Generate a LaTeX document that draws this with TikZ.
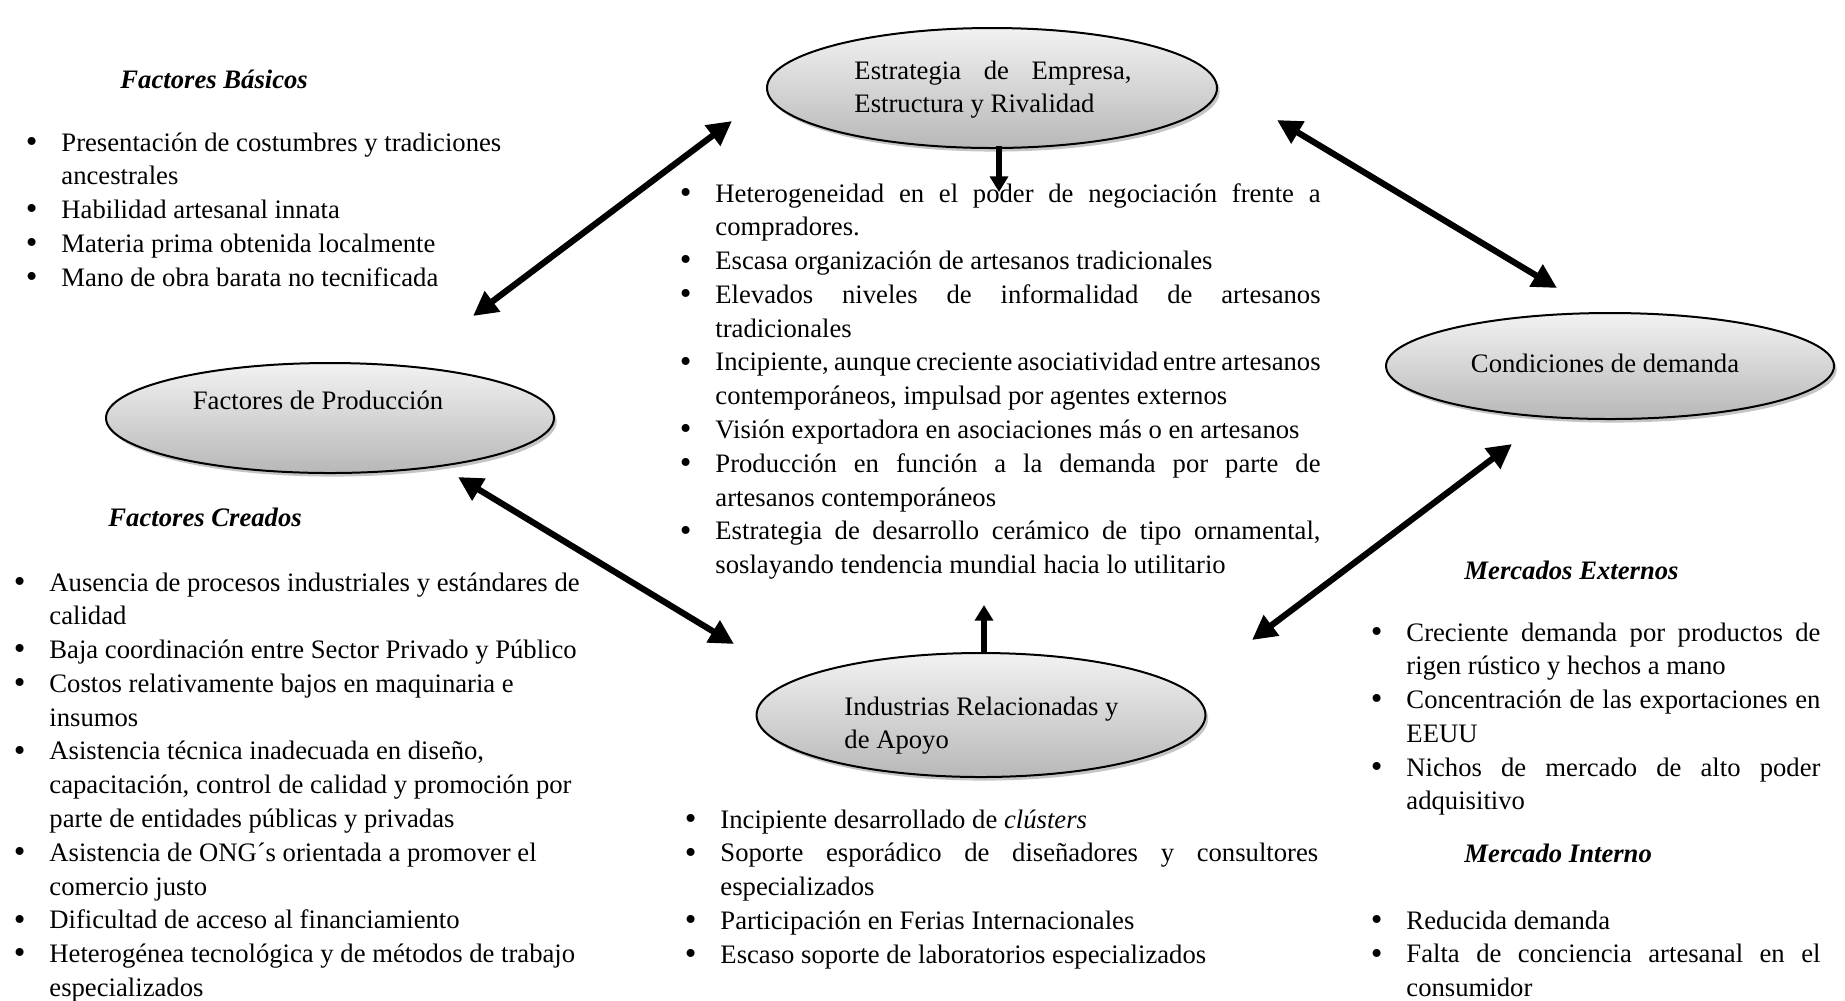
\documentclass[tikz,border=0pt]{standalone}
\usepackage{fontspec}
\setmainfont{Liberation Serif}
\usetikzlibrary{arrows.meta,shapes.geometric,shadows}
\newcommand\bulmark{\llap{\raisebox{-0.6pt}{\fontsize{15}{15}\selectfont\textbullet}\hspace{10.8pt}}}
\newcommand\rr{\raggedright\spaceskip=0pt\xspaceskip=0pt\relax}
\newcommand\fbi{\rr\bulmark\ignorespaces}
\newcommand\bi{\par\noindent\bulmark\ignorespaces}
\newcommand\jl[1]{\makebox[\hsize][s]{\spaceskip=0pt\xspaceskip=0pt #1}\\}
\begin{document}
\begin{tikzpicture}[x=0.45pt,y=-0.45pt,
  ell/.style={ellipse, draw=black, line width=0.9pt, top color=black!5, bottom color=black!28, inner sep=0pt,
    drop shadow={shadow xshift=1.2pt, shadow yshift=-1.6pt, fill=black!45}},
  txt/.style={inner sep=0pt, font=\fontsize{12}{15.2}\selectfont},
  hdr/.style={inner sep=0pt, font=\fontsize{12}{15.2}\selectfont\bfseries\itshape},
  dbl/.style={line width=2.8pt, {Triangle[length=11pt,width=11pt]}-{Triangle[length=11pt,width=11pt]}},
  sgl/.style={line width=2.3pt, -{Triangle[length=7pt,width=8pt]}},
]
\path[fill=white] (0,0) rectangle (1845,1000);
\useasboundingbox (0,0) rectangle (1845,1000);

% ellipses
\node[ell, minimum width=202.5pt, minimum height=54pt] (est) at (992,88) {};
\node[ell, minimum width=201.6pt, minimum height=49.5pt] (fp) at (330,418) {};
\node[ell, minimum width=201.6pt, minimum height=47.7pt] (cd) at (1610,366) {};
\node[ell, minimum width=202pt, minimum height=55.8pt] (ind) at (981,715) {};

% ellipse labels
\node[txt, text width=124.7pt, anchor=base west] (estT) at (854,79) {\rr\jl{Estrategia de Empresa,}Estructura y Rivalidad};
\node[txt, text width=130pt, anchor=base west] (indT) at (844,715) {\rr Industrias Relacionadas y\\de Apoyo};
\node[txt, anchor=base] (fpT) at (318,409) {Factores de Producción};
\node[txt, anchor=base] (cdT) at (1605,372) {Condiciones de demanda};

% headers
\node[hdr, anchor=base west] (fbH) at (120,88) {Factores Básicos};
\node[hdr, anchor=base west] (fcH) at (108,526) {Factores Creados};
\node[hdr, anchor=base west] (meH) at (1464,579) {Mercados Externos};
\node[hdr, anchor=base west] (miH) at (1464,862) {Mercado Interno};

% lists
\node[txt, text width=205pt, anchor=base west] (fbL) at (61,151) {%
\fbi Presentación de costumbres y tradiciones\\ancestrales
\bi Habilidad artesanal innata
\bi Materia prima obtenida localmente
\bi Mano de obra barata no tecnificada};

\node[txt, text width=272.3pt, anchor=base west] (estL) at (715,202) {%
\fbi \jl{Heterogeneidad en el poder de negociación frente a}compradores.
\bi Escasa organización de artesanos tradicionales
\bi \jl{Elevados niveles de informalidad de artesanos}tradicionales
\bi \jl{Incipiente, aunque creciente asociatividad entre artesanos}contemporáneos, impulsad por agentes externos
\bi Visión exportadora en asociaciones más o en artesanos
\bi \jl{Producción en función a la demanda por parte de}artesanos contemporáneos
\bi \jl{Estrategia de desarrollo cerámico de tipo ornamental,}soslayando tendencia mundial hacia lo utilitario};

\node[txt, text width=245pt, anchor=base west] (fcL) at (49,591) {%
\fbi Ausencia de procesos industriales y estándares de\\calidad
\bi Baja coordinación entre Sector Privado y Público
\bi Costos relativamente bajos en maquinaria e\\insumos
\bi Asistencia técnica inadecuada en diseño,\\capacitación, control de calidad y promoción por\\parte de entidades públicas y privadas
\bi Asistencia de ONG´s orientada a promover el\\comercio justo
\bi Dificultad de acceso al financiamiento
\bi Heterogénea tecnológica y de métodos de trabajo\\especializados};

\node[txt, text width=269pt, anchor=base west] (indL) at (720,828) {%
\fbi Incipiente desarrollado de \textit{clústers}
\bi \jl{Soporte esporádico de diseñadores y consultores}especializados
\bi Participación en Ferias Internacionales
\bi Escaso soporte de laboratorios especializados};

\node[txt, text width=186.3pt, anchor=base west] (meL) at (1406,641) {%
\fbi \jl{Creciente demanda por productos de}rigen rústico y hechos a mano
\bi \jl{Concentración de las exportaciones en}EEUU
\bi \jl{Nichos de mercado de alto poder}adquisitivo};

\node[txt, text width=186.3pt, anchor=base west] (miL) at (1406,929) {%
\fbi Reducida demanda
\bi \jl{Falta de conciencia artesanal en el}consumidor};

% arrow end points
\coordinate (a1s) at (732,121); \coordinate (a1e) at (473,316);
\coordinate (a2s) at (1277,120); \coordinate (a2e) at (1557,288);
\coordinate (a3s) at (458,477); \coordinate (a3e) at (734,644);
\coordinate (a4s) at (1512,444); \coordinate (a4e) at (1252,640);
\coordinate (v1s) at (999,146); \coordinate (v1e) at (999,192);
\coordinate (v2s) at (984,654); \coordinate (v2e) at (984,605);

\draw[dbl] (a1s) -- (a1e);
\draw[dbl] (a2s) -- (a2e);
\draw[dbl] (a3s) -- (a3e);
\draw[dbl] (a4s) -- (a4e);
\draw[sgl] (v1s) -- (v1e);
\draw[sgl] (v2s) -- (v2e);
\end{tikzpicture}
\end{document}
